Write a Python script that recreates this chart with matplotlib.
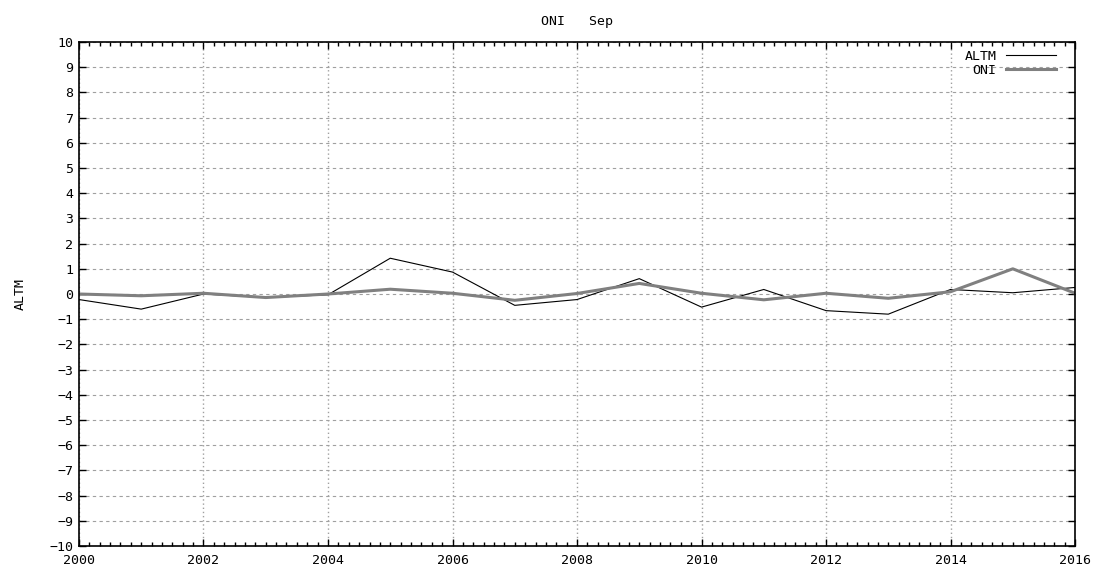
#!/usr/bin/env python3

import numpy
import matplotlib
from matplotlib import pyplot as plt
from matplotlib.ticker import MultipleLocator

matplotlib.use('Agg')

years = [2000, 2001, 2002, 2003, 2004, 2005, 2006, 2007, 2008,
         2009, 2010, 2011, 2012, 2013, 2014, 2015, 2016]
altm = [-0.22, -0.6, 0.0, -0.14, -0.03, 1.42, 0.87, -0.45, -0.22,
        0.61, -0.52, 0.18, -0.66, -0.8, 0.18, 0.05, 0.26]
oni = [0.0, -0.07, 0.03, -0.14, 0.0, 0.19, 0.03, -0.25, 0.02,
       0.42, 0.03, -0.23, 0.03, -0.17, 0.09, 1.0, 0.03]

plt.rcParams['font.family'] = ['DejaVu Sans Mono']
plt.rcParams['font.size'] = 9.5

fig = plt.figure(figsize=(10.97, 5.72), dpi=100)
ax = fig.add_axes([0.072, 0.0455, 0.908, 0.881])

ax.plot(years, altm, color='black', lw=0.8, label='ALTM')
ax.plot(years, oni, color='#808080', lw=2.2, label='ONI')

ax.set_xlim(2000, 2016)
ax.set_ylim(-10, 10)
ax.xaxis.set_major_locator(MultipleLocator(2))
ax.xaxis.set_minor_locator(MultipleLocator(1 / 6))
ax.yaxis.set_major_locator(MultipleLocator(1))
ax.yaxis.set_major_formatter(matplotlib.ticker.FuncFormatter(lambda v, p: f"{int(round(v))}".replace('-', '\u2212')))

ax.tick_params(which='both', direction='in', top=True, right=True, width=1)
ax.tick_params(which='major', length=5, pad=4)
ax.tick_params(axis='x', which='major', pad=6)
ax.tick_params(which='minor', length=3)
ax.tick_params(axis='y', which='minor', left=False, right=False)

ax.grid(axis='y', color='#a0a0a0', ls=(0, (3, 3)), lw=0.8)
ax.grid(axis='x', color='#a0a0a0', ls=(0, (1, 2)), lw=1.0)
for s in ax.spines.values():
    s.set_linewidth(1.2)

ax.set_title('ONI   Sep', fontsize=9.5, pad=12)
ax.set_ylabel('ALTM', labelpad=16)

ax.legend(loc='upper right', bbox_to_anchor=(0.9835, 0.99), markerfirst=False, frameon=False,
          handlelength=3.8, borderaxespad=0, borderpad=0.2, labelspacing=0.1, handletextpad=0.7)

plt.savefig('out.png', dpi=100)
